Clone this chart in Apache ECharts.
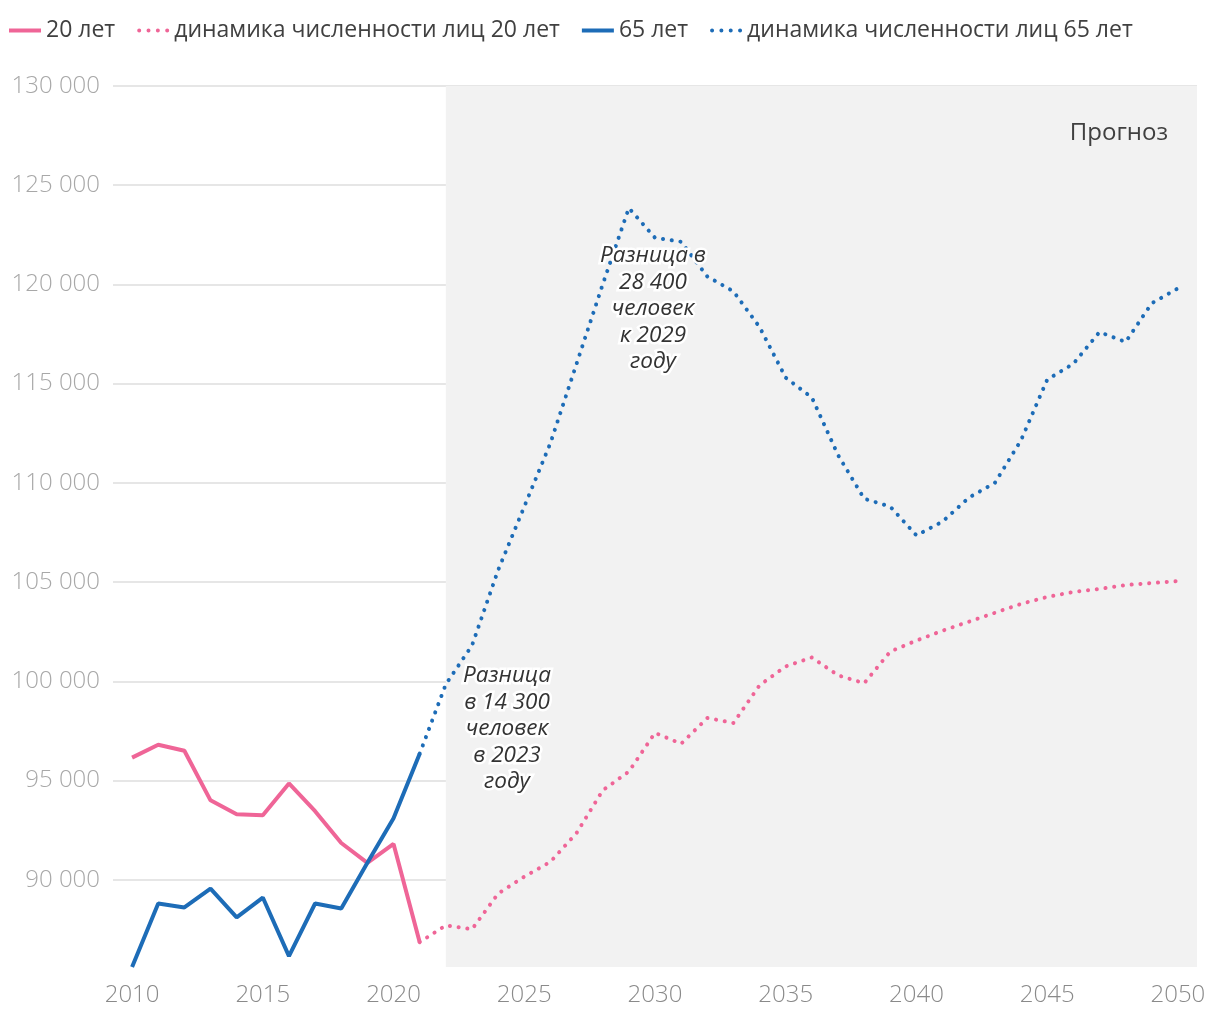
<!DOCTYPE html>
<html>
<head>
<meta charset="utf-8">
<script src="https://cdn.jsdelivr.net/npm/echarts@6/dist/echarts.min.js"></script>
<style>
html,body{margin:0;padding:0;background:#fff;}
#chart{width:1220px;height:1020px;}
</style>
</head>
<body>
<div id="chart"></div>
<script>
// ---- data ----
const yearsHist = [2010, 2011, 2012, 2013, 2014, 2015, 2016, 2017, 2018, 2019, 2020, 2021];
const pop20Hist = [96150, 96800, 96500, 94000, 93300, 93250, 94850, 93450, 91850, 90850, 91800, 86850];
const pop65Hist = [85600, 88800, 88600, 89550, 88100, 89100, 86150, 88800, 88550, 90850, 93100, 96350];

const yearsProj = [2021, 2022, 2023, 2024, 2025, 2026, 2027, 2028, 2029, 2030,
                   2031, 2032, 2033, 2034, 2035, 2036, 2037, 2038, 2039, 2040,
                   2041, 2042, 2043, 2044, 2045, 2046, 2047, 2048, 2049, 2050];
const pop20Proj = [86850, 87700, 87500, 89300, 90150, 90900, 92350, 94500, 95450, 97400,
                   96850, 98150, 97900, 99800, 100750, 101200, 100300, 99900, 101500, 102050,
                   102550, 103000, 103450, 103900, 104250, 104500, 104650, 104850, 104950, 105050];
const pop65Proj = [96350, 99850, 101800, 105600, 108800, 112000, 116000, 120000, 123850, 122350,
                   122150, 120400, 119650, 117850, 115300, 114300, 111400, 109200, 108800, 107350,
                   108050, 109250, 110000, 112150, 115200, 116000, 117600, 117100, 119050, 119800];

const seriesNames = ['20 лет', 'динамика численности лиц 20 лет', '65 лет', 'динамика численности лиц 65 лет'];
const xTickLabels = [2010, 2015, 2020, 2025, 2030, 2035, 2040, 2045, 2050];
const yTickLabels = [90000, 95000, 100000, 105000, 110000, 115000, 120000, 125000, 130000];
const forecastStart = 2022;
const forecastLabel = 'Прогноз';
const note1 = ['Разница', 'в 14 300', 'человек', 'в 2023', 'году'];
const note2 = ['Разница в', '28 400', 'человек', 'к 2029', 'году'];

// ---- chart ----
const xMin = 2009.27, xMax = 2050.73, yMin = 85600, yMax = 130000;
const PINK = '#EF6597', BLUE = '#1D6CB7';
const FONT = '"Open Sans", "Noto Sans", sans-serif';
const dots = [0.1, 8.7];
const zip = (xs, ys) => xs.map((x, i) => [x, ys[i]]);
const fmt = v => String(v).replace(/\B(?=(\d{3})+(?!\d))/g, ' ');
const circ = cx => 'M' + (cx - 2) + ',2a2,2 0 1,0 4,0a2,2 0 1,0 -4,0';
const dotIcon = 'path://' + [2, 11.33, 20.67, 30].map(circ).join('');

const chart = echarts.init(document.getElementById('chart'), null, {renderer: 'canvas'});
chart.setOption({
  animation: false,
  backgroundColor: '#fff',
  grid: {left: 113, right: 23, top: 86, bottom: 53, containLabel: false},
  legend: {
    left: 9, top: 19, padding: 0, itemGap: 22, itemWidth: 32, itemHeight: 4,
    textStyle: {fontFamily: FONT, fontSize: 23, color: '#404040'},
    data: [
      {name: seriesNames[0], icon: 'rect'},
      {name: seriesNames[1], icon: dotIcon},
      {name: seriesNames[2], icon: 'rect'},
      {name: seriesNames[3], icon: dotIcon}
    ]
  },
  xAxis: {
    type: 'value', min: xMin, max: xMax,
    axisLine: {show: false}, axisTick: {show: false, customValues: xTickLabels},
    splitLine: {show: false},
    axisLabel: {customValues: xTickLabels, margin: 16, color: '#8a8a8a', fontFamily: FONT, fontSize: 24, fontWeight: 300,
      formatter: v => String(v)}
  },
  yAxis: {
    type: 'value', min: yMin, max: yMax,
    axisLine: {show: false}, axisTick: {show: false, customValues: yTickLabels},
    splitLine: {show: true, lineStyle: {color: '#e6e6e6', width: 2}},
    axisLabel: {customValues: yTickLabels, margin: 13, color: '#a8a8a8', fontFamily: FONT, fontSize: 24, fontWeight: 300, formatter: fmt}
  },
  series: [
    {
      name: 'forecastBg', type: 'line', data: [], z: -1, silent: true,
      markArea: {silent: true, itemStyle: {color: '#f2f2f2'}, data: [[{xAxis: forecastStart}, {xAxis: xMax}]]}
    },
    {name: seriesNames[0], type: 'line', data: zip(yearsHist, pop20Hist), symbol: 'none',
     itemStyle: {color: PINK}, lineStyle: {color: PINK, width: 4}},
    {name: seriesNames[1], type: 'line', data: zip(yearsProj, pop20Proj), symbol: 'none',
     itemStyle: {color: PINK}, lineStyle: {color: PINK, width: 4, type: dots, cap: 'round'}},
    {name: seriesNames[2], type: 'line', data: zip(yearsHist, pop65Hist), symbol: 'none',
     itemStyle: {color: BLUE}, lineStyle: {color: BLUE, width: 4}},
    {name: seriesNames[3], type: 'line', data: zip(yearsProj, pop65Proj), symbol: 'none',
     itemStyle: {color: BLUE}, lineStyle: {color: BLUE, width: 4, type: dots, cap: 'round'}}
  ],
  graphic: [
    {type: 'text', x: 1168, y: 133, z: 100, style: {text: forecastLabel, align: 'right', verticalAlign: 'middle',
      fontFamily: FONT, fontSize: 24, fill: '#404040'}},
    {type: 'text', x: 507, y: 729, z: 100, style: {text: note1.join('\n'), align: 'center', verticalAlign: 'middle',
      fontFamily: FONT, fontSize: 22.5, fontStyle: 'italic', lineHeight: 26.5, fill: '#333', stroke: '#fff', lineWidth: 5}},
    {type: 'text', x: 653, y: 309, z: 100, style: {text: note2.join('\n'), align: 'center', verticalAlign: 'middle',
      fontFamily: FONT, fontSize: 22.5, fontStyle: 'italic', lineHeight: 26.5, fill: '#333', stroke: '#fff', lineWidth: 5}}
  ]
});
</script>
</body>
</html>
